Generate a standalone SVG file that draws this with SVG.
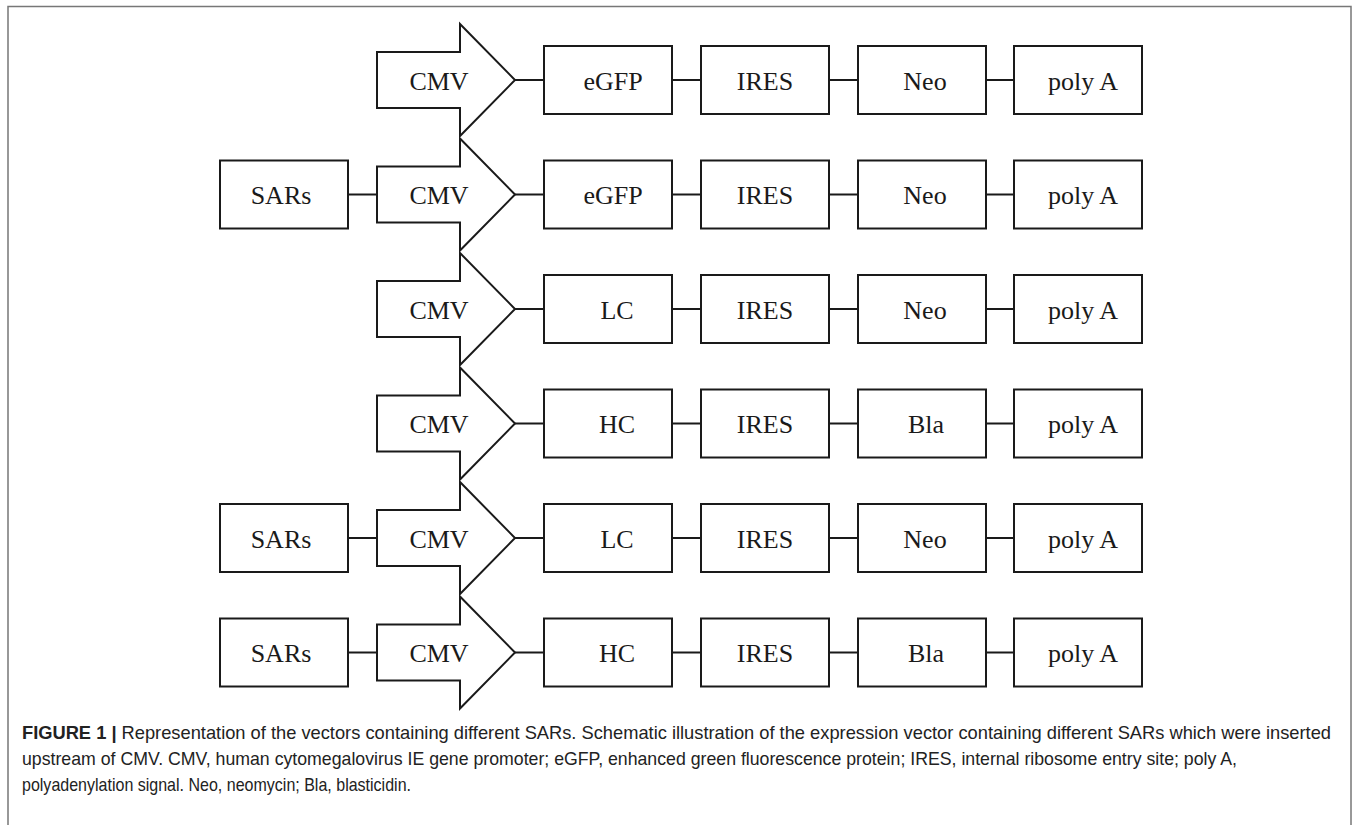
<svg xmlns="http://www.w3.org/2000/svg" width="1356" height="825" viewBox="0 0 1356 825">
<style>
.b{fill:#fff;stroke:#1a1a1a;stroke-width:2}
.t{font-family:"Liberation Serif","Times New Roman",serif;font-size:26px;fill:#1a1a1a;text-anchor:middle}
.c{stroke:#1a1a1a;stroke-width:2;fill:none}
.cap{font-family:"Liberation Sans",Arial,sans-serif;font-size:18.5px;fill:#222}
</style>
<defs>
<path id="arrow" d="M377,-28 L460,-28 L460,-56 L515,0 L460,56 L460,28 L377,28 Z"/>
</defs>
<rect x="8" y="6.5" width="1343" height="830" fill="none" stroke="#777" stroke-width="1.5"/>
<g id="connectors" class="c">
<path d="M515,80H544M672,80H701M829,80H858M986,80H1014"/>
<path d="M348,194.5H377M515,194.5H544M672,194.5H701M829,194.5H858M986,194.5H1014"/>
<path d="M515,309H544M672,309H701M829,309H858M986,309H1014"/>
<path d="M515,423.5H544M672,423.5H701M829,423.5H858M986,423.5H1014"/>
<path d="M348,538H377M515,538H544M672,538H701M829,538H858M986,538H1014"/>
<path d="M348,652.5H377M515,652.5H544M672,652.5H701M829,652.5H858M986,652.5H1014"/>
</g>
<!-- Row 1 -->
<g transform="translate(0,80)">
<g id="r1-cmv"><use href="#arrow" class="b"/><text class="t" x="439" y="9.5">CMV</text></g>
<g id="r1-egfp"><rect class="b" x="544" y="-34" width="128" height="68"/><text class="t" x="613" y="9.5">eGFP</text></g>
<g id="r1-ires"><rect class="b" x="701" y="-34" width="128" height="68"/><text class="t" x="765" y="9.5">IRES</text></g>
<g id="r1-neo"><rect class="b" x="858" y="-34" width="128" height="68"/><text class="t" x="925" y="9.5">Neo</text></g>
<g id="r1-polya"><rect class="b" x="1014" y="-34" width="128" height="68"/><text class="t" x="1083" y="9.5">poly A</text></g>
</g>
<!-- Row 2 -->
<g transform="translate(0,194.5)">
<g id="r2-sars"><rect class="b" x="220" y="-34" width="128" height="68"/><text class="t" x="281" y="9.5">SARs</text></g>
<g id="r2-cmv"><use href="#arrow" class="b"/><text class="t" x="439" y="9.5">CMV</text></g>
<g id="r2-egfp"><rect class="b" x="544" y="-34" width="128" height="68"/><text class="t" x="613" y="9.5">eGFP</text></g>
<g id="r2-ires"><rect class="b" x="701" y="-34" width="128" height="68"/><text class="t" x="765" y="9.5">IRES</text></g>
<g id="r2-neo"><rect class="b" x="858" y="-34" width="128" height="68"/><text class="t" x="925" y="9.5">Neo</text></g>
<g id="r2-polya"><rect class="b" x="1014" y="-34" width="128" height="68"/><text class="t" x="1083" y="9.5">poly A</text></g>
</g>
<!-- Row 3 -->
<g transform="translate(0,309)">
<g id="r3-cmv"><use href="#arrow" class="b"/><text class="t" x="439" y="9.5">CMV</text></g>
<g id="r3-lc"><rect class="b" x="544" y="-34" width="128" height="68"/><text class="t" x="617" y="9.5">LC</text></g>
<g id="r3-ires"><rect class="b" x="701" y="-34" width="128" height="68"/><text class="t" x="765" y="9.5">IRES</text></g>
<g id="r3-neo"><rect class="b" x="858" y="-34" width="128" height="68"/><text class="t" x="925" y="9.5">Neo</text></g>
<g id="r3-polya"><rect class="b" x="1014" y="-34" width="128" height="68"/><text class="t" x="1083" y="9.5">poly A</text></g>
</g>
<!-- Row 4 -->
<g transform="translate(0,423.5)">
<g id="r4-cmv"><use href="#arrow" class="b"/><text class="t" x="439" y="9.5">CMV</text></g>
<g id="r4-hc"><rect class="b" x="544" y="-34" width="128" height="68"/><text class="t" x="617" y="9.5">HC</text></g>
<g id="r4-ires"><rect class="b" x="701" y="-34" width="128" height="68"/><text class="t" x="765" y="9.5">IRES</text></g>
<g id="r4-bla"><rect class="b" x="858" y="-34" width="128" height="68"/><text class="t" x="926" y="9.5">Bla</text></g>
<g id="r4-polya"><rect class="b" x="1014" y="-34" width="128" height="68"/><text class="t" x="1083" y="9.5">poly A</text></g>
</g>
<!-- Row 5 -->
<g transform="translate(0,538)">
<g id="r5-sars"><rect class="b" x="220" y="-34" width="128" height="68"/><text class="t" x="281" y="9.5">SARs</text></g>
<g id="r5-cmv"><use href="#arrow" class="b"/><text class="t" x="439" y="9.5">CMV</text></g>
<g id="r5-lc"><rect class="b" x="544" y="-34" width="128" height="68"/><text class="t" x="617" y="9.5">LC</text></g>
<g id="r5-ires"><rect class="b" x="701" y="-34" width="128" height="68"/><text class="t" x="765" y="9.5">IRES</text></g>
<g id="r5-neo"><rect class="b" x="858" y="-34" width="128" height="68"/><text class="t" x="925" y="9.5">Neo</text></g>
<g id="r5-polya"><rect class="b" x="1014" y="-34" width="128" height="68"/><text class="t" x="1083" y="9.5">poly A</text></g>
</g>
<!-- Row 6 -->
<g transform="translate(0,652.5)">
<g id="r6-sars"><rect class="b" x="220" y="-34" width="128" height="68"/><text class="t" x="281" y="9.5">SARs</text></g>
<g id="r6-cmv"><use href="#arrow" class="b"/><text class="t" x="439" y="9.5">CMV</text></g>
<g id="r6-hc"><rect class="b" x="544" y="-34" width="128" height="68"/><text class="t" x="617" y="9.5">HC</text></g>
<g id="r6-ires"><rect class="b" x="701" y="-34" width="128" height="68"/><text class="t" x="765" y="9.5">IRES</text></g>
<g id="r6-bla"><rect class="b" x="858" y="-34" width="128" height="68"/><text class="t" x="926" y="9.5">Bla</text></g>
<g id="r6-polya"><rect class="b" x="1014" y="-34" width="128" height="68"/><text class="t" x="1083" y="9.5">poly A</text></g>
</g>
<g id="caption">
<text class="cap" x="22" y="739" textLength="1309" lengthAdjust="spacingAndGlyphs"><tspan font-weight="bold">FIGURE 1 | </tspan>Representation of the vectors containing different SARs. Schematic illustration of the expression vector containing different SARs which were inserted</text>
<text class="cap" x="22" y="765" textLength="1215" lengthAdjust="spacingAndGlyphs">upstream of CMV. CMV, human cytomegalovirus IE gene promoter; eGFP, enhanced green fluorescence protein; IRES, internal ribosome entry site; poly A,</text>
<text class="cap" x="22" y="791" textLength="389" lengthAdjust="spacingAndGlyphs">polyadenylation signal. Neo, neomycin; Bla, blasticidin.</text>
</g>
</svg>
